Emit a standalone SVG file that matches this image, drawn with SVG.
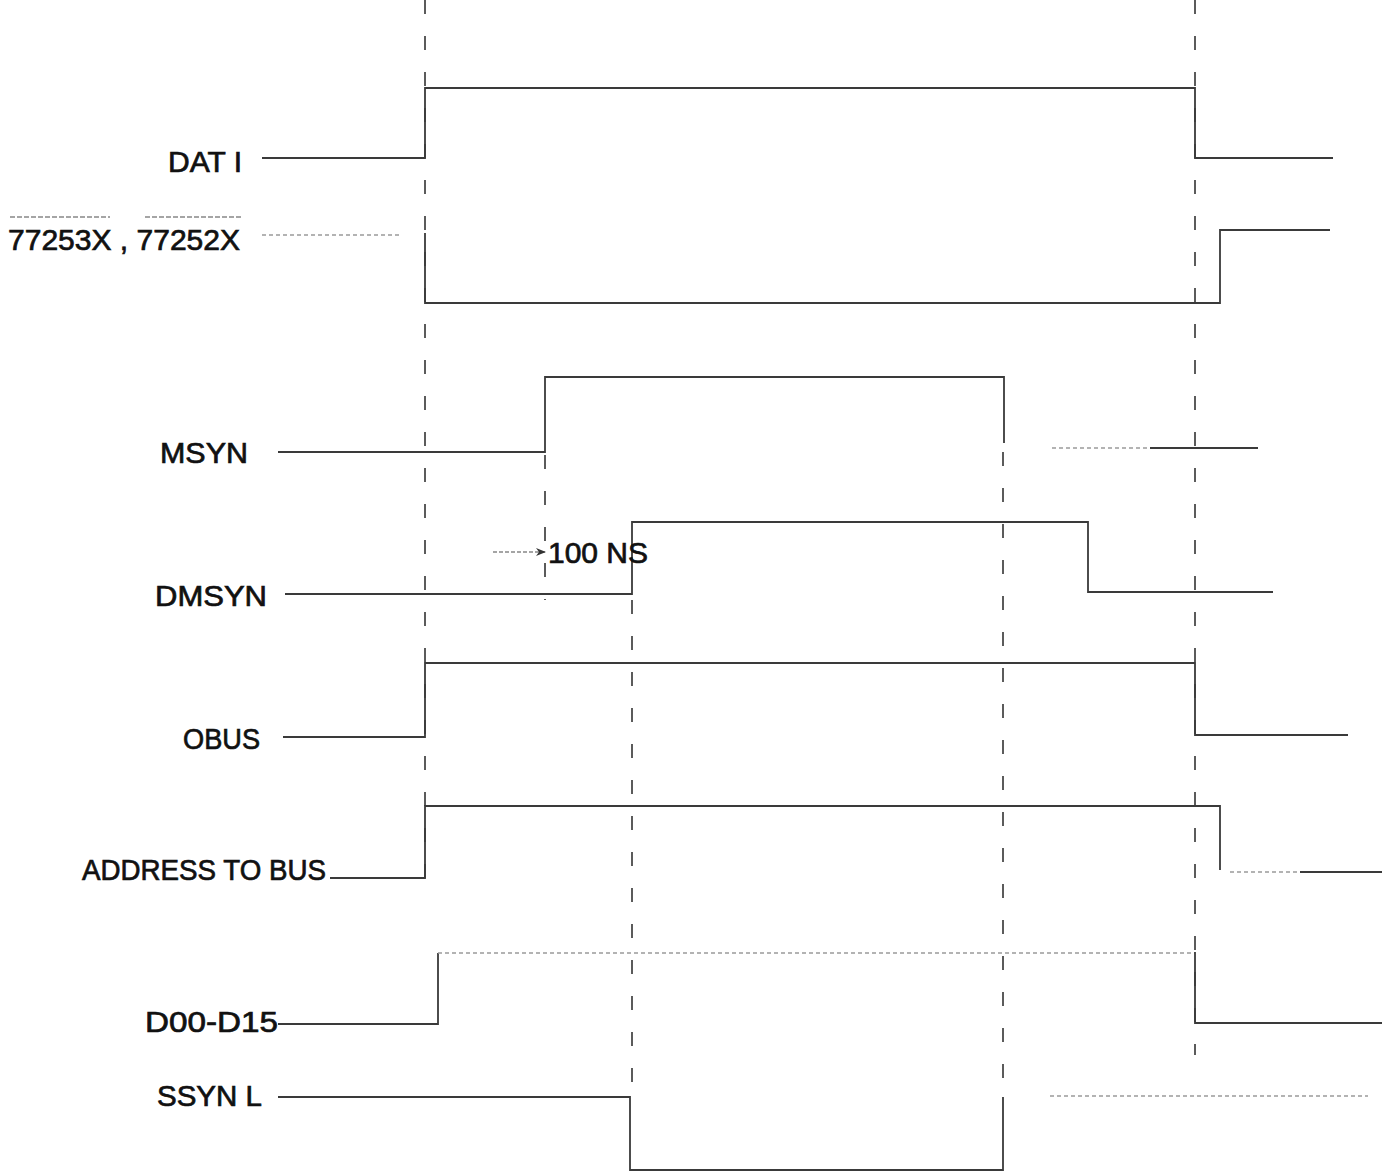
<svg xmlns="http://www.w3.org/2000/svg" width="1382" height="1176" viewBox="0 0 1382 1176">
<style>
.lbl{font-family:"Liberation Sans",Arial,sans-serif;font-size:29px;fill:#111;stroke:#111;stroke-width:0.7}
.sig{fill:none;stroke:#3a3a3a;stroke-width:1.8;stroke-linejoin:miter}
.faint{fill:none;stroke:#9a9a9a;stroke-width:1.4;stroke-dasharray:4 3}
.guide{fill:none;stroke:#333;stroke-width:1.6;stroke-dasharray:14 22}
.bar{stroke:#888;stroke-width:1.4;stroke-dasharray:5 2}
</style>
<defs>
<marker id="ah" viewBox="0 0 10 10" refX="9" refY="5" markerWidth="10" markerHeight="10" orient="auto" markerUnits="userSpaceOnUse">
<path d="M0,1 L10,5 L0,9 L3,5 Z" fill="#333"/>
</marker>
</defs>
<rect width="1382" height="1176" fill="#fff"/>
<g id="connectors">
<line class="guide" x1="425" y1="0" x2="425" y2="880"/>
<line class="guide" x1="545" y1="455" x2="545" y2="600"/>
<line class="guide" x1="632" y1="600" x2="632" y2="1100"/>
<line class="guide" x1="1003" y1="452" x2="1003" y2="1100"/>
<line class="guide" x1="1195" y1="0" x2="1195" y2="1055"/>
</g>
<g id="dati">
<text class="lbl" x="242" y="172" text-anchor="end" textLength="74" lengthAdjust="spacingAndGlyphs">DAT I</text>
<polyline class="sig" points="262,158 425,158 425,88 1195,88 1195,158 1333,158"/>
</g>
<g id="s77253x">
<line class="bar" x1="10" y1="217" x2="110" y2="217"/>
<line class="bar" x1="145" y1="217" x2="242" y2="217"/>
<text class="lbl" x="8" y="250" textLength="232" lengthAdjust="spacingAndGlyphs">77253X , 77252X</text>
<line class="faint" x1="262" y1="235" x2="400" y2="235"/>
<polyline class="sig" points="425,233 425,303 1220,303 1220,230 1330,230"/>
</g>
<g id="msyn">
<text class="lbl" x="248" y="463" text-anchor="end" textLength="88" lengthAdjust="spacingAndGlyphs">MSYN</text>
<polyline class="sig" points="278,452 545,452 545,377 1004,377 1004,443"/>
<line class="faint" x1="1052" y1="448" x2="1150" y2="448"/>
<line class="sig" x1="1150" y1="448" x2="1258" y2="448"/>
</g>
<g id="dmsyn">
<text class="lbl" x="267" y="606" text-anchor="end" textLength="112" lengthAdjust="spacingAndGlyphs">DMSYN</text>
<polyline class="sig" points="285,594 632,594 632,522 1088,522 1088,592 1273,592"/>
<line x1="493" y1="552" x2="545" y2="552" stroke="#888" stroke-width="1.4" stroke-dasharray="4 2" marker-end="url(#ah)"/>
<text class="lbl" x="548" y="563" textLength="100" lengthAdjust="spacingAndGlyphs">100 NS</text>
</g>
<g id="obus">
<text class="lbl" x="260" y="749" text-anchor="end" textLength="77" lengthAdjust="spacingAndGlyphs">OBUS</text>
<polyline class="sig" points="283,737 425,737 425,663 1195,663 1195,735 1348,735"/>
</g>
<g id="address">
<text class="lbl" x="326" y="880" text-anchor="end" textLength="244" lengthAdjust="spacingAndGlyphs">ADDRESS TO BUS</text>
<polyline class="sig" points="330,878 425,878 425,806 1220,806 1220,870"/>
<line class="faint" x1="1230" y1="872" x2="1300" y2="872"/>
<line class="sig" x1="1300" y1="872" x2="1382" y2="872"/>
</g>
<g id="d00d15">
<text class="lbl" x="278" y="1032" text-anchor="end" textLength="133" lengthAdjust="spacingAndGlyphs">D00-D15</text>
<polyline class="sig" points="278,1024 438,1024 438,953"/>
<line class="faint" x1="438" y1="953" x2="1195" y2="953"/>
<polyline class="sig" points="1195,952 1195,1023 1382,1023"/>
</g>
<g id="ssyn">
<text class="lbl" x="262" y="1106" text-anchor="end" textLength="105" lengthAdjust="spacingAndGlyphs">SSYN L</text>
<polyline class="sig" points="278,1097 630,1097 630,1170 1003,1170 1003,1097"/>
<line class="faint" x1="1050" y1="1096" x2="1368" y2="1096" stroke-dasharray="3 9"/>
</g>
</svg>
